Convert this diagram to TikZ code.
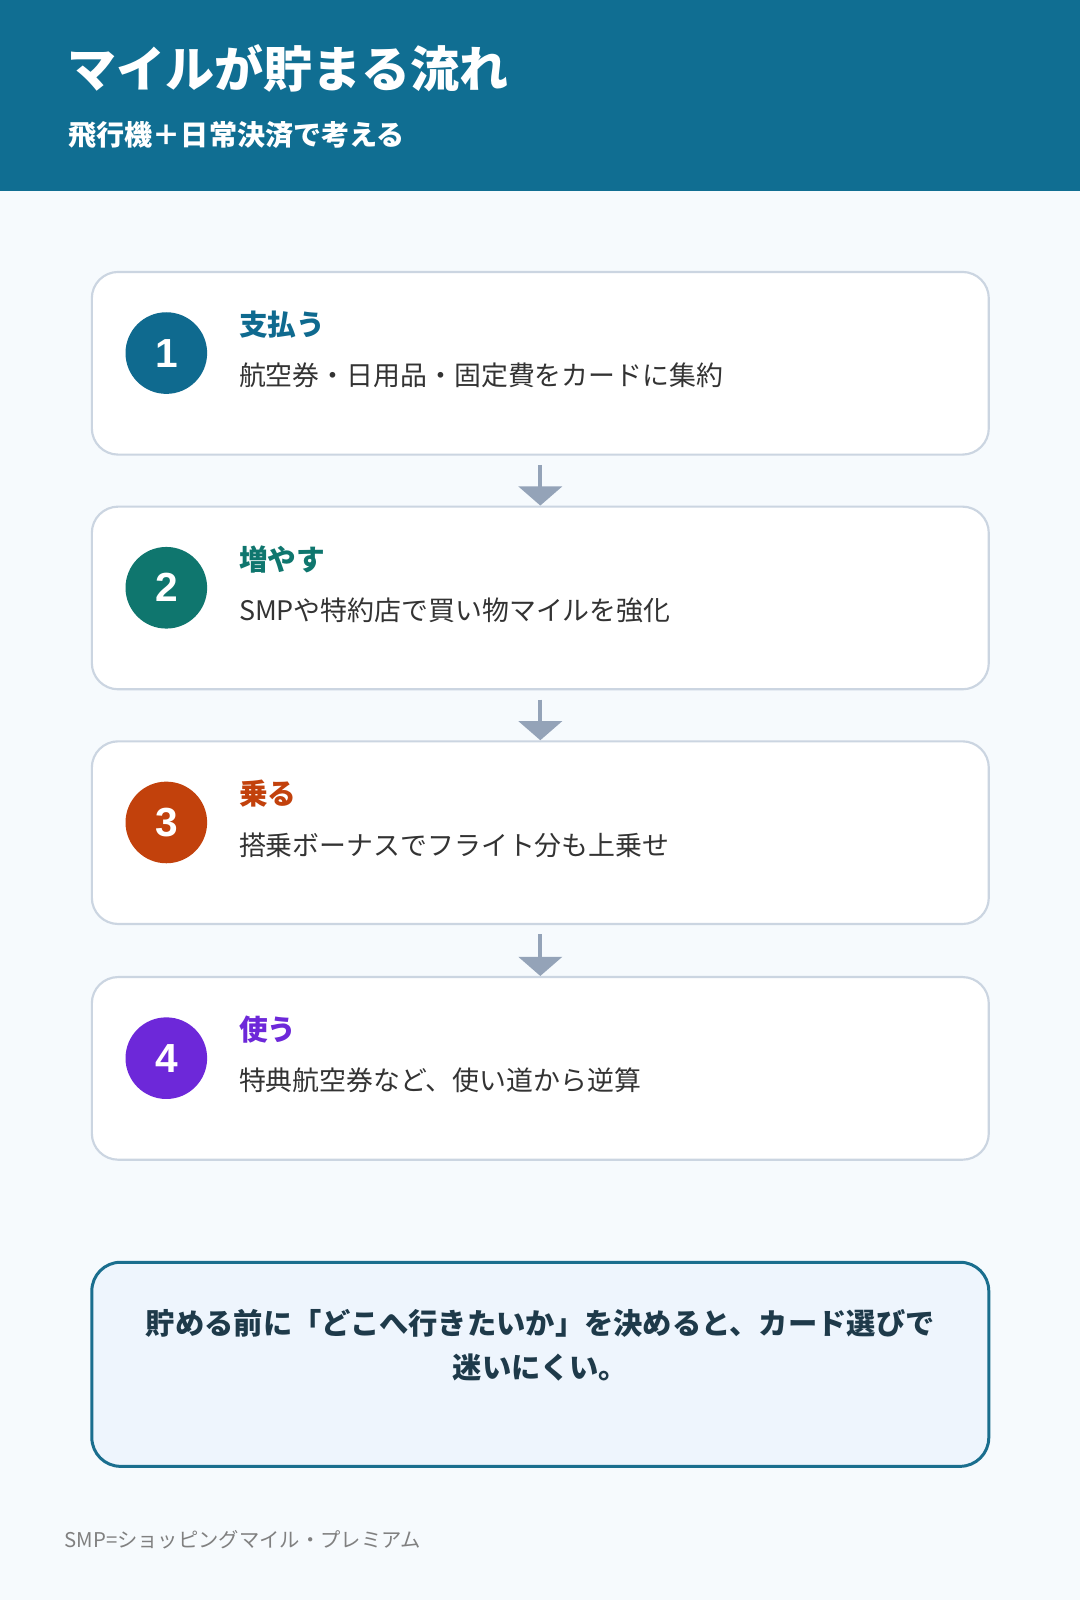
\documentclass[tikz,border=0pt]{standalone}
\usepackage{fontspec}
\setmainfont{Noto Sans CJK JP}
\newfontfamily\numfont{Liberation Sans}
\usetikzlibrary{arrows.meta}
\definecolor{hdr}{HTML}{106E92}
\definecolor{bg}{HTML}{F6FAFD}
\definecolor{cbord}{HTML}{CBD5E1}
\definecolor{c1}{HTML}{0F6A8F}
\definecolor{c2}{HTML}{0F766E}
\definecolor{c3}{HTML}{C2410C}
\definecolor{c4}{HTML}{6D28D9}
\definecolor{desc}{HTML}{333333}
\definecolor{arr}{HTML}{94A3B8}
\definecolor{nfill}{HTML}{EEF5FD}
\definecolor{nbord}{HTML}{1A6E8E}
\definecolor{ntext}{HTML}{1E3A4A}
\newcommand{\fs}[1]{\fontsize{#1pt}{#1pt}\selectfont}
\tikzset{
 card/.style={draw=cbord,line width=1.8pt,fill=white,rounded corners=22,minimum width=879*0.03cm,minimum height=179*0.03cm,inner sep=0},
 num/.style={circle,minimum size=80*0.03cm,inner sep=0,text=white,font=\fs{34}\numfont\bfseries},
 ttl/.style={anchor=west,inner sep=0,font=\fs{24}\bfseries},
 dsc/.style={anchor=west,inner sep=0,font=\fs{22.5},text=desc},
 flow/.style={arr,line width=3.5pt,-{Triangle[length=16pt,width=36pt]}}
}
\begin{document}
\begin{tikzpicture}[x=0.03cm,y=-0.03cm]
\useasboundingbox (0,0) rectangle (1058,1568);
\fill[bg] (0,0) rectangle (1058,1568);
\fill[hdr] (0,0) rectangle (1058,187);
\node[anchor=west,inner sep=0,text=white,font=\fs{41}\bfseries] (title) at (66,67) {マイルが貯まる流れ};
\node[anchor=west,inner sep=0,text=white,font=\fs{23.5}\bfseries] (sub) at (67,132) {飛行機＋日常決済で考える};
\foreach \i/\y/\c/\t/\d in {1/356/c1/支払う/航空券・日用品・固定費をカードに集約,2/586/c2/増やす/SMPや特約店で買い物マイルを強化,3/816/c3/乗る/搭乗ボーナスでフライト分も上乗せ,4/1047/c4/使う/特典航空券など、使い道から逆算}{
 \node[card] (card\i) at (529.5,\y) {};
 \node[num,fill=\c] (n\i) at (163,\y-10) {\i};
 \node[ttl,text=\c] (t\i) at (234,\y-38) {\t};
 \node[dsc] (d\i) at (234,\y+12) {\d};
}
\foreach \a/\b in {1/2,2/3,3/4}{
 \draw[flow] ([yshift=-9*0.03cm]card\a.south) -- (card\b.north);
}
\node[draw=nbord,line width=2.5pt,fill=nfill,rounded corners=24,minimum width=879*0.03cm,minimum height=200*0.03cm] (note) at (529.5,1337) {};
\node[align=center,inner sep=0,text=ntext,font=\fs{24.5}\bfseries,anchor=north] (notet) at (529.5,1283) {貯める前に「どこへ行きたいか」を決めると、カード選びで\\[12pt]迷いにくい。};
\node[anchor=west,inner sep=0,text=gray,font=\fs{17}] (foot) at (63,1509) {SMP=ショッピングマイル・プレミアム};
\end{tikzpicture}
\end{document}
